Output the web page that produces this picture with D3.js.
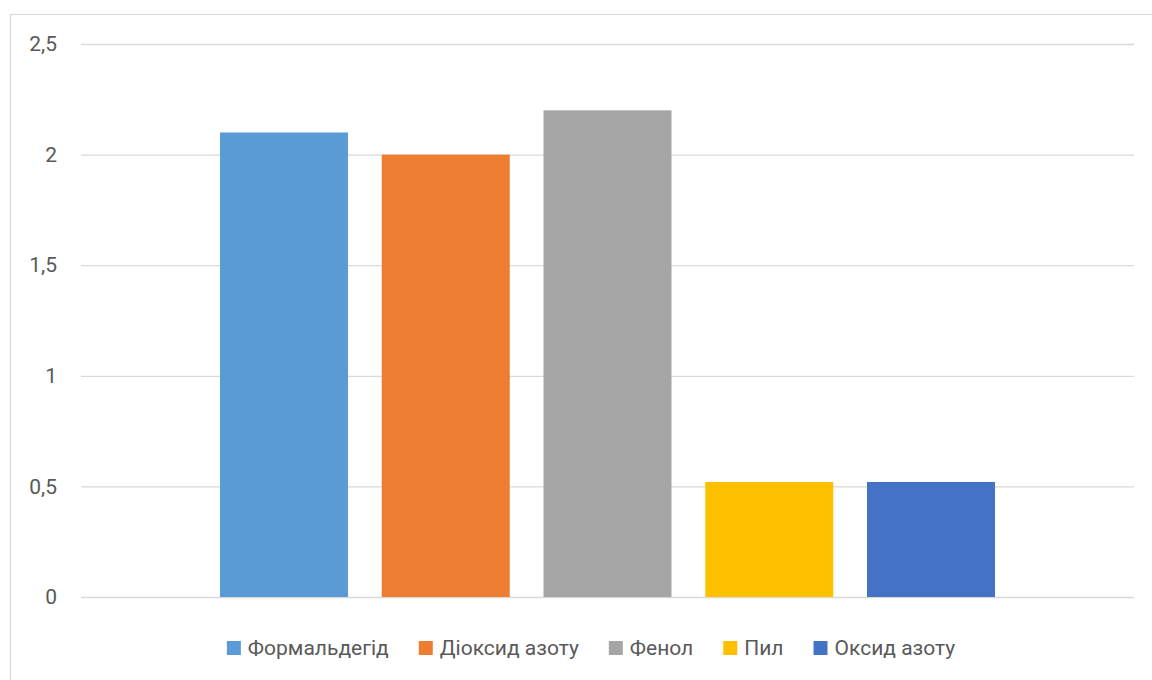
<!DOCTYPE html>
<html><head><meta charset="utf-8">
<script src="https://cdn.jsdelivr.net/npm/d3@7"></script>
<style>html,body{margin:0;padding:0;background:#fff;}svg{display:block;}</style>
</head><body>
<svg id="c" width="1152" height="680"></svg>
<script>
const seriesNames = ["Формальдегід","Діоксид азоту","Фенол","Пил","Оксид азоту"];
const seriesValues = [2.1, 2.0, 2.2, 0.52, 0.52];
const seriesColors = ["#5B9BD5","#ED7D31","#A5A5A5","#FFC000","#4472C4"];
const yTicks = [0, 0.5, 1, 1.5, 2, 2.5];
const yTickLabels = ["0","0,5","1","1,5","2","2,5"];

const svg = d3.select("#c");
const font = "Roboto, 'Open Sans', sans-serif";
svg.append("rect").attr("x",10.5).attr("y",14.5).attr("width",1300).attr("height",800)
  .attr("fill","#fff").attr("stroke","#d9d9d9").attr("stroke-width",1.2);

const y = d3.scaleLinear().domain([0,2.5]).range([597,44]);
const plotL = 81, plotR = 1134;
const x = d3.scaleBand().domain(seriesNames).range([203.1,1011.9]).paddingInner(0.2087).paddingOuter(0.10435);

const yAxis = d3.axisLeft(y).tickValues(yTicks).tickFormat((d,i)=>yTickLabels[i]).tickSize(-(plotR-plotL)).tickPadding(24);
const g = svg.append("g").attr("transform",`translate(${plotL},0)`).call(yAxis);
g.attr("font-size",null).attr("font-family",null);
g.select(".domain").remove();
g.selectAll(".tick line").attr("stroke","#d9d9d9").attr("stroke-width",1.3);
g.selectAll(".tick text").attr("fill","#595959").style("font-family",font).style("font-size","21px");

svg.append("g").selectAll("rect").data(seriesValues).join("rect")
  .attr("x",(d,i)=>x(seriesNames[i])).attr("width",x.bandwidth())
  .attr("y",d=>y(d)).attr("height",d=>y(0)-y(d))
  .attr("fill",(d,i)=>seriesColors[i]);

// legend
const lg = svg.append("g");
const items = lg.selectAll("g").data(seriesNames).join("g");
items.append("rect").attr("width",14).attr("height",14).attr("y",-7).attr("fill",(d,i)=>seriesColors[i]);
items.append("text").text(d=>d).attr("x",21).attr("dy","0.35em")
  .attr("fill","#595959").attr("font-family",font).attr("font-size",21);
let cx = 0; const pos=[];
items.each(function(){ const w = 21 + d3.select(this).select("text").node().getComputedTextLength(); pos.push(cx); cx += w + 30; });
const total = cx - 30;
const start = 591 - total/2;
items.attr("transform",(d,i)=>`translate(${start+pos[i]},648)`);
</script>
</body></html>
